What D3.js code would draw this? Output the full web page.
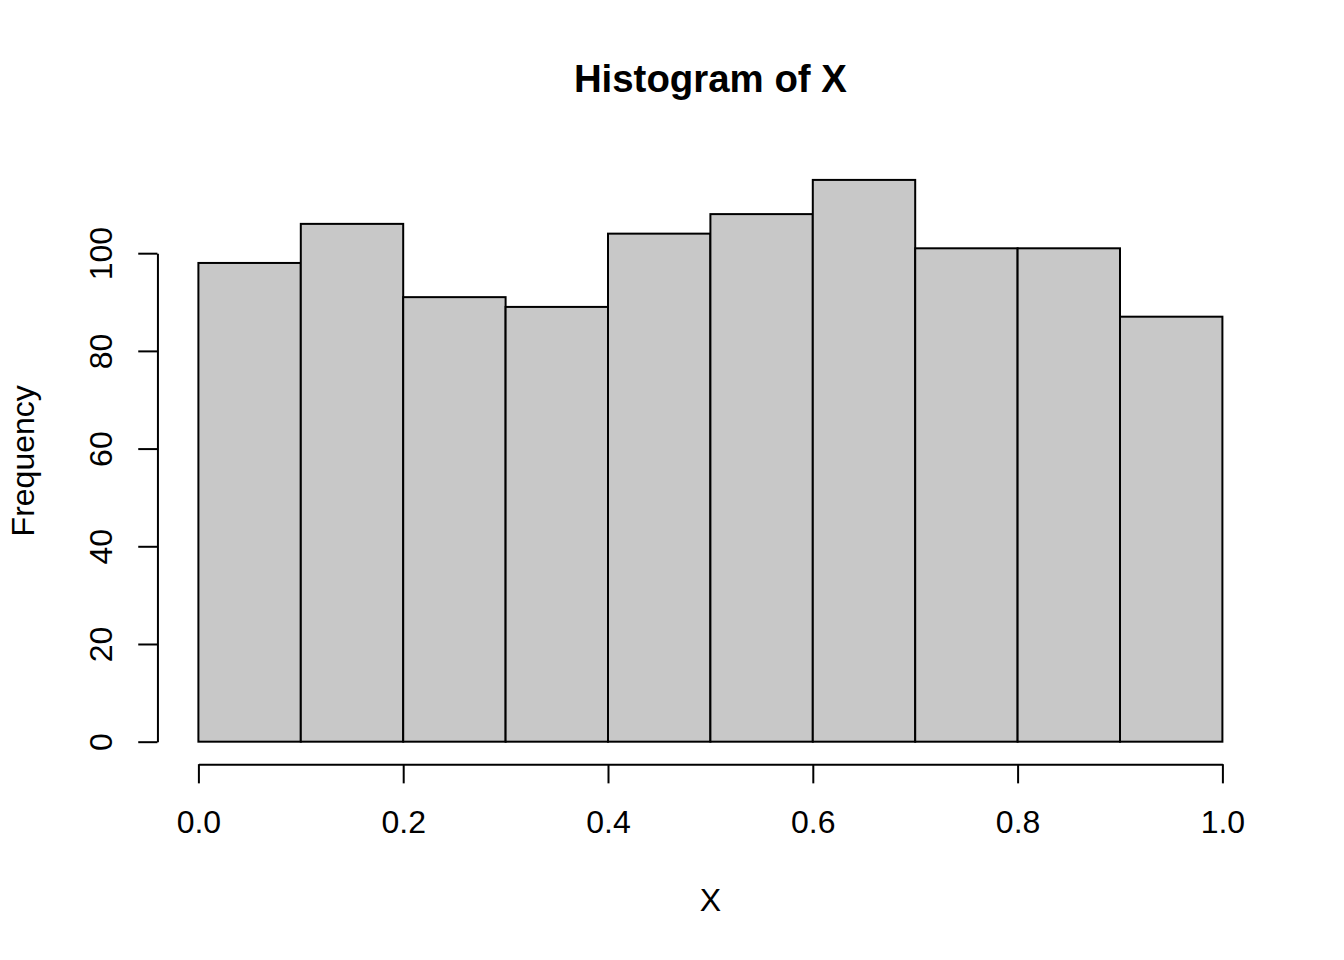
<!DOCTYPE html>
<html>
<head>
<meta charset="utf-8">
<script src="https://cdn.jsdelivr.net/npm/d3@7"></script>
<style>
  html, body { margin: 0; padding: 0; background: #fff; }
  svg { display: block; }
  text { font-family: "Liberation Sans", Arial, Helvetica, sans-serif; fill: #000; }
</style>
</head>
<body>
<div id="chart"></div>
<script>
// ---- data ----
const breaks = [0.0, 0.1, 0.2, 0.3, 0.4, 0.5, 0.6, 0.7, 0.8, 0.9, 1.0];
const counts = [98, 106, 91, 89, 104, 108, 115, 101, 101, 87];
const xTicks = [0.0, 0.2, 0.4, 0.6, 0.8, 1.0];
const xTickLabels = ["0.0", "0.2", "0.4", "0.6", "0.8", "1.0"];
const yTicks = [0, 20, 40, 60, 80, 100];
const yTickLabels = ["0", "20", "40", "60", "80", "100"];
const title = "Histogram of X";
const xLabel = "X";
const yLabel = "Frequency";

// ---- layout ----
const W = 1344, H = 960;
const lineH = 38.4;
const plot = { left: 4.1 * lineH, right: W - 2.1 * lineH, top: 4.1 * lineH, bottom: H - 5.1 * lineH };
const fs = 32;

const svg = d3.select("#chart").append("svg").attr("width", W).attr("height", H);

const xMin = d3.min(breaks), xMax = d3.max(breaks);
const xPad = 0.04 * (xMax - xMin);
const x = d3.scaleLinear().domain([xMin - xPad, xMax + xPad]).range([plot.left, plot.right]);
const yMax = d3.max(counts);
const yPad = 0.04 * yMax;
const y = d3.scaleLinear().domain([0 - yPad, yMax + yPad]).range([plot.bottom, plot.top]);

const bins = counts.map((c, i) => ({ x0: breaks[i], x1: breaks[i + 1], n: c }));

svg.append("g").selectAll("rect").data(bins).join("rect")
  .attr("x", d => x(d.x0))
  .attr("y", d => y(d.n))
  .attr("width", d => x(d.x1) - x(d.x0))
  .attr("height", d => y(0) - y(d.n))
  .attr("fill", "#c8c8c8")
  .attr("stroke", "#000")
  .attr("stroke-width", 2);

// x axis
const xAxisScale = d3.scaleLinear().domain([xTicks[0], xTicks[xTicks.length - 1]])
  .range([x(xTicks[0]), x(xTicks[xTicks.length - 1])]);
const tickLen = 0.5 * lineH;
const gx = svg.append("g").attr("transform", `translate(0,${plot.bottom})`)
  .call(d3.axisBottom(xAxisScale).tickValues(xTicks)
    .tickFormat((d, i) => xTickLabels[i]).tickSize(tickLen).tickSizeOuter(0).tickPadding(0));
gx.selectAll("path, line").attr("stroke", "#000").attr("stroke-width", 2);
gx.selectAll("text").attr("y", 68.8).attr("dy", 0).attr("font-size", fs)
  .style("font-family", '"Liberation Sans", Arial, sans-serif').attr("fill", "#000");

// y axis
const yAxisScale = d3.scaleLinear().domain([yTicks[0], yTicks[yTicks.length - 1]])
  .range([y(yTicks[0]), y(yTicks[yTicks.length - 1])]);
const gy = svg.append("g").attr("transform", `translate(${plot.left},0)`)
  .call(d3.axisLeft(yAxisScale).tickValues(yTicks)
    .tickFormat((d, i) => yTickLabels[i]).tickSize(tickLen).tickSizeOuter(0).tickPadding(0));
gy.selectAll("path, line").attr("stroke", "#000").attr("stroke-width", 2);
gy.selectAll("text")
  .attr("transform", "rotate(-90)")
  .attr("x", 0).attr("y", -(plot.left - 112)).attr("dy", 0)
  .attr("text-anchor", "middle")
  .attr("font-size", fs)
  .style("font-family", '"Liberation Sans", Arial, sans-serif').attr("fill", "#000");

// title
svg.append("text")
  .attr("x", (plot.left + plot.right) / 2).attr("y", 92)
  .attr("text-anchor", "middle").attr("font-size", fs * 1.2).attr("font-weight", "bold")
  .text(title);

// axis labels
svg.append("text")
  .attr("x", (plot.left + plot.right) / 2).attr("y", 911)
  .attr("text-anchor", "middle").attr("font-size", fs)
  .text(xLabel);

svg.append("text")
  .attr("transform", `translate(34,${(plot.top + plot.bottom) / 2}) rotate(-90)`)
  .attr("text-anchor", "middle").attr("font-size", fs)
  .text(yLabel);
</script>
</body>
</html>
